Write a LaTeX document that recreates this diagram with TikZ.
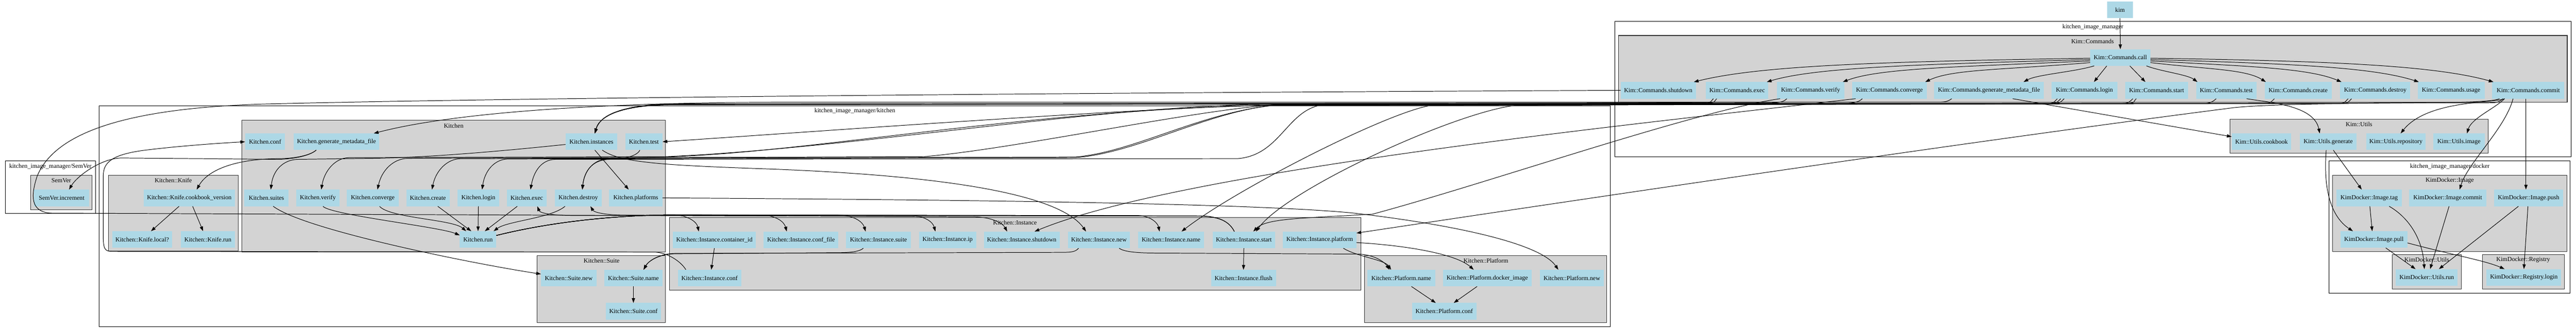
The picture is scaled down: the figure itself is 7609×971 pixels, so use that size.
\documentclass[tikz,border=0pt]{standalone}
\usepackage{fontspec}
\setmainfont{Liberation Serif}
\usetikzlibrary{arrows.meta,calc}
\definecolor{nodeblue}{HTML}{ADD8E6}
\definecolor{clgray}{HTML}{D3D3D3}
\newcommand{\nf}{\fontsize{18.3pt}{22pt}\selectfont}
\tikzset{
  nd/.style={rectangle, fill=nodeblue, draw=none, minimum height=49pt, inner sep=0pt, font=\nf},
  lbl/.style={inner sep=0pt, font=\nf},
  clw/.style={draw=black, line width=1.4pt, fill=white},
  clg/.style={draw=black!80, line width=1.6pt, fill=clgray},
  ed/.style={draw=black, line width=1.5pt, -{Triangle[length=14pt,width=9.5pt]}},
}
\begin{document}
\begin{tikzpicture}[x=1pt,y=-1pt]
\useasboundingbox (0,0) rectangle (7609,971);
\fill[white] (0,0) rectangle (7609,971);

% ---------- clusters ----------
\draw[clw] (4770,63) rectangle (7594,463);
\node[lbl] (Lkim) at (6182,80) {kitchen\_image\_manager};
\draw[clg] (4780,105) rectangle (7583,302);
\node[lbl] (LKC) at (6181,122) {Kim::Commands};
\draw[clg] (6587,353) rectangle (7349,453);
\node[lbl] (LKU) at (6968,368) {Kim::Utils};

\draw[clw] (6879,476) rectangle (7592,866);
\node[lbl] (Ldock) at (7236,492) {kitchen\_image\_manager/docker};
\draw[clg] (6890,518) rectangle (7582,743);
\node[lbl] (LKDI) at (7236,533) {KimDocker::Image};
\draw[clg] (7066,753) rectangle (7270,855);
\node[lbl] (LKDU) at (7168,768) {KimDocker::Utils};
\draw[clg] (7332,753) rectangle (7574,855);
\node[lbl] (LKDR) at (7453,768) {KimDocker::Registry};

\draw[clw] (16,476) rectangle (282,631);
\node[lbl] (Lsem) at (149,492) {kitchen\_image\_manager/SemVer};
\draw[clg] (91,518) rectangle (272,620);
\node[lbl] (LSV) at (181,533) {SemVer};

\draw[clw] (293,313) rectangle (4757,965);
\node[lbl] (Lkit) at (2525,328) {kitchen\_image\_manager/kitchen};
\draw[clg] (320,518) rectangle (704,742);
\node[lbl] (LKK) at (512,533) {Kitchen::Knife};
\draw[clg] (715,355) rectangle (1966,745);
\node[lbl] (LK) at (1340,372) {Kitchen};
\draw[clg] (1977,643) rectangle (4020,857);
\node[lbl] (LKI) at (2998,658) {Kitchen::Instance};
\draw[clg] (1587,755) rectangle (1966,954);
\node[lbl] (LKS) at (1777,770) {Kitchen::Suite};
\draw[clg] (4031,755) rectangle (4746,954);
\node[lbl] (LKP) at (4389,770) {Kitchen::Platform};

% ---------- nodes ----------
\node[nd, minimum width=75pt] (kim) at (6262,29) {kim};
\node[nd, minimum width=178pt] (KCcall) at (6263,170) {Kim::Commands.call};
\node[nd, minimum width=222pt] (KCshutdown) at (4898,267) {Kim::Commands.shutdown};
\node[nd, minimum width=185pt] (KCexec) at (5131,267) {Kim::Commands.exec};
\node[nd, minimum width=200pt] (KCverify) at (5348,267) {Kim::Commands.verify};
\node[nd, minimum width=221pt] (KCconverge) at (5581,267) {Kim::Commands.converge};
\node[nd, minimum width=324pt] (KCgen) at (5875,267) {Kim::Commands.generate\_metadata\_file};
\node[nd, minimum width=195pt] (KClogin) at (6157,267) {Kim::Commands.login};
\node[nd, minimum width=185pt] (KCstart) at (6370,267) {Kim::Commands.start};
\node[nd, minimum width=178pt] (KCtest) at (6576,267) {Kim::Commands.test};
\node[nd, minimum width=198pt] (KCcreate) at (6788,267) {Kim::Commands.create};
\node[nd, minimum width=207pt] (KCdestroy) at (7016,267) {Kim::Commands.destroy};
\node[nd, minimum width=198pt] (KCusage) at (7240,267) {Kim::Commands.usage};
\node[nd, minimum width=213pt] (KCcommit) at (7468,267) {Kim::Commands.commit};

\node[nd, minimum width=176pt] (KUcookbook) at (6680,419) {Kim::Utils.cookbook};
\node[nd, minimum width=168pt] (KUgen) at (6877,419) {Kim::Utils.generate};
\node[nd, minimum width=176pt] (KUrepo) at (7077,419) {Kim::Utils.repository};
\node[nd, minimum width=152pt] (KUimage) at (7263,419) {Kim::Utils.image};

\node[nd, minimum width=192pt] (KDItag) at (6998,585) {KimDocker::Image.tag};
\node[nd, minimum width=228pt] (KDIcommit) at (7230,585) {KimDocker::Image.commit};
\node[nd, minimum width=204pt] (KDIpush) at (7469,585) {KimDocker::Image.push};
\node[nd, minimum width=198pt] (KDIpull) at (7012,708) {KimDocker::Image.pull};
\node[nd, minimum width=183pt] (KDUrun) at (7168,820) {KimDocker::Utils.run};
\node[nd, minimum width=221pt] (KDRlogin) at (7455,820) {KimDocker::Registry.login};

\node[nd, minimum width=162pt] (SVinc) at (182,585) {SemVer.increment};
\node[nd, minimum width=270pt] (KKcv) at (559,585) {Kitchen::Knife.cookbook\_version};
\node[nd, minimum width=178pt] (KKlocal) at (420,708) {Kitchen::Knife.local?};
\node[nd, minimum width=160pt] (KKrun) at (614,708) {Kitchen::Knife.run};

\node[nd, minimum width=118pt] (Kconf) at (783,419) {Kitchen.conf};
\node[nd, minimum width=253pt] (Kgen) at (994,419) {Kitchen.generate\_metadata\_file};
\node[nd, minimum width=153pt] (Kinstances) at (1747,419) {Kitchen.instances};
\node[nd, minimum width=110pt] (Ktest) at (1902,419) {Kitchen.test};
\node[nd, minimum width=130pt] (Ksuites) at (787,585) {Kitchen.suites};
\node[nd, minimum width=127pt] (Kverify) at (939,585) {Kitchen.verify};
\node[nd, minimum width=154pt] (Kconverge) at (1101,585) {Kitchen.converge};
\node[nd, minimum width=128pt] (Kcreate) at (1264,585) {Kitchen.create};
\node[nd, minimum width=123pt] (Klogin) at (1413,585) {Kitchen.login};
\node[nd, minimum width=118pt] (Kexec) at (1556,585) {Kitchen.exec};
\node[nd, minimum width=138pt] (Kdestroy) at (1708,585) {Kitchen.destroy};
\node[nd, minimum width=157pt] (Kplatforms) at (1878,585) {Kitchen.platforms};
\node[nd, minimum width=108pt] (Krun) at (1412,708) {Kitchen.run};

\node[nd, minimum width=245pt] (KIcid) at (2110,709) {Kitchen::Instance.container\_id};
\node[nd, minimum width=220pt] (KIcf) at (2366,709) {Kitchen::Instance.conf\_file};
\node[nd, minimum width=192pt] (KIsuite) at (2595,709) {Kitchen::Instance.suite};
\node[nd, minimum width=169pt] (KIip) at (2799,709) {Kitchen::Instance.ip};
\node[nd, minimum width=224pt] (KIshutdown) at (3018,709) {Kitchen::Instance.shutdown};
\node[nd, minimum width=184pt] (KInew) at (3246,709) {Kitchen::Instance.new};
\node[nd, minimum width=196pt] (KIname) at (3459,709) {Kitchen::Instance.name};
\node[nd, minimum width=184pt] (KIstart) at (3674,709) {Kitchen::Instance.start};
\node[nd, minimum width=217pt] (KIplatform) at (3898,709) {Kitchen::Instance.platform};
\node[nd, minimum width=187pt] (KIconf) at (2096,822) {Kitchen::Instance.conf};
\node[nd, minimum width=192pt] (KIflush) at (3673,822) {Kitchen::Instance.flush};

\node[nd, minimum width=164pt] (KSnew) at (1680,822) {Kitchen::Suite.new};
\node[nd, minimum width=172pt] (KSname) at (1871,822) {Kitchen::Suite.name};
\node[nd, minimum width=162pt] (KSconf) at (1871,920) {Kitchen::Suite.conf};

\node[nd, minimum width=200pt] (KPname) at (4139,822) {Kitchen::Platform.name};
\node[nd, minimum width=262pt] (KPdocker) at (4393,822) {Kitchen::Platform.docker\_image};
\node[nd, minimum width=189pt] (KPnew) at (4643,822) {Kitchen::Platform.new};
\node[nd, minimum width=191pt] (KPconf) at (4266,920) {Kitchen::Platform.conf};

% ---------- edges: kim / call ----------
\draw[ed] (kim.south) -- (KCcall.north);
\draw[ed] ($(KCcall.west)+(0,2)$) .. controls +(-600,10) and +(200,-50) .. ($(KCshutdown.north east)+(-6,0)$);
\draw[ed] ($(KCcall.west)+(0,6)$) .. controls +(-480,14) and +(150,-45) .. ($(KCexec.north east)+(-5,0)$);
\draw[ed] ($(KCcall.west)+(0,10)$) .. controls +(-380,18) and +(110,-42) .. ($(KCverify.north east)+(-5,0)$);
\draw[ed] ($(KCcall.west)+(0,15)$) .. controls +(-260,22) and +(80,-38) .. ($(KCconverge.north east)+(-5,0)$);
\draw[ed] ($(KCcall.south west)+(12,0)$) .. controls +(-60,18) and +(40,-22) .. ($(KCgen.north east)+(-60,0)$);
\draw[ed] ($(KCcall.south)+(-40,0)$) -- ($(KClogin.north)+(28,0)$);
\draw[ed] ($(KCcall.south)+(28,0)$) -- ($(KCstart.north)+(-33,0)$);
\draw[ed] ($(KCcall.south east)+(-12,0)$) .. controls +(40,16) and +(-30,-22) .. ($(KCtest.north west)+(4,0)$);
\draw[ed] ($(KCcall.east)+(0,15)$) .. controls +(170,20) and +(-60,-38) .. ($(KCcreate.north west)+(4,0)$);
\draw[ed] ($(KCcall.east)+(0,10)$) .. controls +(280,16) and +(-100,-42) .. ($(KCdestroy.north west)+(4,0)$);
\draw[ed] ($(KCcall.east)+(0,6)$) .. controls +(400,12) and +(-140,-45) .. ($(KCusage.north west)+(4,0)$);
\draw[ed] ($(KCcall.east)+(0,2)$) .. controls +(520,8) and +(-180,-50) .. ($(KCcommit.north west)+(4,0)$);

% ---------- commands -> utils / docker ----------
\draw[ed] ($(KCgen.south)+(70,0)$) -- ($(KUcookbook.west)+(0,-15)$);
\draw[ed] ($(KCtest.south)+(60,0)$) .. controls (6700,303) and (6835,310) .. ($(KUgen.north)+(-25,0)$);
\draw[ed] ($(KCcommit.south)+(-70,0)$) .. controls (7370,305) and (7170,295) .. ($(KUrepo.north)+(14,0)$);
\draw[ed] ($(KCcommit.south)+(-70,0)$) .. controls (7370,320) and (7300,350) .. ($(KUimage.north)+(24,0)$);
\draw[ed] ($(KCcommit.south)+(-45,0)$) .. controls (7400,380) and (7290,480) .. ($(KDIcommit.north)+(35,0)$);
\draw[ed] ($(KCcommit.south)+(-7,0)$) -- ($(KDIpush.north)+(-8,0)$);

\draw[ed] ($(KUgen.south)+(15,0)$) -- ($(KDItag.north)+(-22,0)$);
\draw[ed] ($(KUgen.south)+(-6,0)$) .. controls (6862,560) and (6885,640) .. ($(KDIpull.north)+(-62,0)$);
\draw[ed] ($(KDItag.south)+(2,0)$) -- ($(KDIpull.north)+(-5,0)$);
\draw[ed] ($(KDItag.south)+(59,0)$) .. controls (7110,640) and (7155,700) .. ($(KDUrun.north)+(-7,0)$);
\draw[ed] ($(KDIcommit.south)+(4,0)$) -- ($(KDUrun.north)+(10,0)$);
\draw[ed] ($(KDIpush.south)+(-30,0)$) -- ($(KDUrun.north)+(36,0)$);
\draw[ed] ($(KDIpush.south)+(-2,0)$) -- (KDRlogin.north);
\draw[ed] ($(KDIpull.south)+(35,0)$) -- ($(KDUrun.north)+(-33,0)$);
\draw[ed] ($(KDIpull.east)+(0,10)$) .. controls (7250,755) and (7340,770) .. ($(KDRlogin.north)+(-57,0)$);

% ---------- upper bundle: commands -> kitchen ----------
\draw[ed] ($(KCgen.south)+(-110,0)$) .. controls +(-12,8) and +(30,0) .. (5720,302) -- (2300,302) .. controls (1800,303) and (1350,330) .. ($(Kgen.north)+(110,0)$);
\draw[ed] ($(KCtest.south)+(-30,0)$) .. controls +(-10,9) and +(30,0) .. (6500,306) -- (3800,310) .. controls (3400,315) and (2400,390) .. (Ktest.east);
\draw[ed] ($(KCverify.south)+(-70,0)$) .. controls +(-10,9) and +(30,0) .. (5230,304) -- (3700,309) .. controls (3200,320) and (2500,440) .. (1966,463) -- (1030,466) .. controls (990,467) and (958,505) .. ($(Kverify.north)+(10,0)$);
\draw[ed] ($(KCconverge.south)+(-80,0)$) .. controls +(-10,9) and +(30,0) .. (5450,305) -- (3760,310) .. controls (3500,330) and (3000,440) .. (2729,463) -- (1205,468) .. controls (1160,469) and (1127,505) .. ($(Kconverge.north)+(14,0)$);
\draw[ed] ($(KCcreate.south)+(-70,0)$) .. controls +(-10,9) and +(30,0) .. (6680,306) -- (3770,311) .. controls (3550,330) and (3350,450) .. (3176,464) -- (1360,469) .. controls (1320,470) and (1287,505) .. ($(Kcreate.north)+(12,0)$);
\draw[ed] ($(KClogin.south)+(-70,0)$) .. controls +(-10,9) and +(30,0) .. (6050,305) -- (3765,310.5) .. controls (3560,332) and (3360,452) .. (3176,466) -- (1500,470) .. controls (1460,471) and (1432,505) .. ($(Klogin.north)+(11,0)$);
\draw[ed] ($(KCexec.south)+(-70,0)$) .. controls +(-10,9) and +(30,0) .. (5030,303) -- (3900,311) .. controls (3800,330) and (3780,460) .. (3654,469) -- (1640,471) .. controls (1600,472) and (1577,505) .. ($(Kexec.north)+(11,0)$);
\draw[ed] ($(KCdestroy.south)+(-80,0)$) .. controls +(-10,9) and +(30,0) .. (6900,306) -- (3720,311.5) .. controls (3000,330) and (2400,450) .. (1966,464) -- (1800,469) .. controls (1752,470) and (1726,505) .. ($(Kdestroy.north)+(12,0)$);

\draw[ed] ($(KCexec.south)+(-60,0)$) .. controls +(-10,9) and +(30,0) .. (5040,304) -- (1990,307) .. controls (1870,308) and (1775,330) .. ($(Kinstances.north)+(10,0)$);
\draw[ed] ($(KClogin.south)+(-60,0)$) .. controls +(-10,9) and +(30,0) .. (6060,305) -- (1990,308) .. controls (1870,309) and (1775,330) .. ($(Kinstances.north)+(10,0)$);
\draw[ed] ($(KCstart.south)+(-60,0)$) .. controls +(-10,9) and +(30,0) .. (6280,305) -- (1990,308.5) .. controls (1870,309) and (1775,330) .. ($(Kinstances.north)+(10,0)$);
\draw[ed] ($(KCdestroy.south)+(-70,0)$) .. controls +(-10,9) and +(30,0) .. (6910,306) -- (1990,309) .. controls (1870,310) and (1775,330) .. ($(Kinstances.north)+(10,0)$);
\draw[ed] ($(KCcommit.south)+(-75,0)$) .. controls +(-10,9) and +(30,0) .. (7350,304) -- (1990,309.5) .. controls (1870,310) and (1775,330) .. ($(Kinstances.north)+(10,0)$);

% ---------- commands -> Kitchen::Instance ----------
\draw[ed] ($(KClogin.south)+(-80,0)$) .. controls +(-10,9) and +(30,0) .. (6040,306) -- (4230,311) .. controls (4100,330) and (3650,560) .. ($(KIname.north)+(31,0)$);
\draw[ed] ($(KCstart.south)+(-70,0)$) .. controls +(-10,9) and +(30,0) .. (6260,306) -- (4480,311) .. controls (4300,330) and (3800,560) .. ($(KIstart.north)+(36,0)$);
\draw[ed] ($(KCverify.south)+(-90,0)$) .. controls (5000,330) and (4400,540) .. (4054,633) .. controls (3850,645) and (3740,645) .. ($(KIstart.north)+(28,0)$);
\draw[ed] ($(KCconverge.south)+(-100,0)$) .. controls (4900,360) and (3500,500) .. ($(KIshutdown.north)+(38,0)$);
\draw[ed] ($(KCcommit.south)+(-85,0)$) .. controls +(-20,10) and +(60,0) .. (7189,303) .. controls (6900,306) and (6700,308) .. (6600,318) .. controls (5800,420) and (4600,600) .. ($(KIplatform.east)+(0,-20)$);
\draw[ed] (KCshutdown.west) .. controls (3000,275) and (1500,290) .. (800,307) .. controls (350,318) and (160,400) .. (110,520) .. controls (90,580) and (90,626) .. (150,630) -- (2880,641) .. controls (2930,642) and (2962,660) .. ($(KIshutdown.north)+(-43,0)$);

% ---------- inside kitchen ----------
\draw[ed] ($(Kgen.south)+(-60,0)$) .. controls +(-20,18) and +(40,0) .. (820,469) .. controls (700,470) and (615,500) .. ($(KKcv.north)+(22,0)$);
\draw[ed] ($(Kgen.south)+(-60,0)$) .. controls +(-20,18) and +(40,0) .. (820,471) -- (360,467) .. controls (300,467) and (228,520) .. ($(SVinc.north)+(22,0)$);
\draw[ed] ($(KIconf.north)+(-70,0)$) .. controls +(-15,-25) and +(40,0) .. (1930,745) -- (330,743) .. controls (310,743) and (305,735) .. (305,700) -- (305,520) .. controls (305,480) and (330,458) .. (420,445) .. controls (520,432) and (650,423) .. (Kconf.west);
\draw[ed] ($(Kinstances.west)+(0,8)$) .. controls (1450,450) and (1250,466) .. (1100,468) -- (880,471) .. controls (835,472) and (806,505) .. ($(Ksuites.north)+(13,0)$);
\draw[ed] ($(Kinstances.south)+(10,0)$) -- ($(Kplatforms.north)+(-21,0)$);
\draw[ed] ($(Kinstances.south)+(32,0)$) .. controls (1830,480) and (1950,488) .. (2259,499) .. controls (2700,515) and (3120,560) .. ($(KInew.north)+(-38,0)$);
\draw[ed] ($(Ktest.south)+(-12,0)$) .. controls +(-8,18) and +(40,0) .. (1800,471) .. controls (1750,472) and (1726,505) .. ($(Kdestroy.north)+(12,0)$);

\draw[ed] ($(Kverify.south)+(15,0)$) .. controls +(20,25) and +(-60,-25) .. ($(Krun.north west)+(0,12)$);
\draw[ed] ($(Kconverge.south)+(20,0)$) .. controls +(30,35) and +(-40,-35) .. ($(Krun.north)+(-35,0)$);
\draw[ed] ($(Kcreate.south)+(29,0)$) -- ($(Krun.north)+(-20,0)$);
\draw[ed] (Klogin.south) -- (Krun.north);
\draw[ed] ($(Kexec.south)+(-28,0)$) -- ($(Krun.north)+(20,0)$);
\draw[ed] ($(Kdestroy.south)+(-39,0)$) .. controls +(-40,35) and +(40,-30) .. ($(Krun.north)+(46,0)$);
\draw[ed] ($(Ksuites.south)+(20,0)$) .. controls (900,680) and (1400,780) .. ($(KSnew.west)+(0,-12)$);

\draw[ed] ($(KKcv.south)+(-30,0)$) -- ($(KKlocal.north)+(26,0)$);
\draw[ed] ($(KKcv.south)+(10,0)$) -- ($(KKrun.north)+(-14,0)$);

% ---------- lower bundle: run -> instance ----------
\draw[ed] ($(Krun.east)+(0,-12)$) .. controls (1650,650) and (1850,636) .. (1985,635) .. controls (2030,635) and (2058,655) .. ($(KIcid.north)+(-46,0)$);
\draw[ed] ($(Krun.east)+(0,-12)$) .. controls (1650,650) and (1850,636) .. (1985,635) -- (2250,636) .. controls (2292,637) and (2316,655) .. ($(KIcf.north)+(-42,0)$);
\draw[ed] ($(Krun.east)+(0,-12)$) .. controls (1650,650) and (1850,636) .. (1985,635) -- (2480,636) .. controls (2522,637) and (2548,655) .. ($(KIsuite.north)+(-38,0)$);
\draw[ed] ($(Krun.east)+(0,-12)$) .. controls (1650,650) and (1850,636) .. (1985,635) -- (2690,637) .. controls (2730,638) and (2755,655) .. ($(KIip.north)+(-36,0)$);
\draw[ed] ($(Krun.east)+(0,-12)$) .. controls (1650,650) and (1850,636) .. (1985,635) -- (3360,637) .. controls (3400,638) and (3420,660) .. ($(KIname.north)+(-34,0)$);

\draw[ed] ($(KIstart.north)+(-28,0)$) .. controls +(-15,-30) and +(60,0) .. (3540,638) -- (1700,637) .. controls (1630,637) and (1595,630) .. ($(Kexec.south)+(31,0)$);
\draw[ed] ($(KIstart.north)+(-28,0)$) .. controls +(-15,-30) and +(60,0) .. (3540,639) -- (1850,636) .. controls (1790,636) and (1755,628) .. ($(Kdestroy.south)+(36,0)$);

% ---------- instance / suite / platform ----------
\draw[ed] (KIcid.south) -- ($(KIconf.north)+(5,0)$);
\draw[ed] (KIstart.south) -- (KIflush.north);
\draw[ed] (KSname.south) -- (KSconf.north);
\draw[ed] ($(KIsuite.south)+(-45,0)$) .. controls +(-10,10) and +(40,0) .. (2470,747) -- (1995,750) .. controls (1945,751) and (1915,772) .. ($(KSname.north)+(30,0)$);
\draw[ed] ($(KInew.south)+(-60,0)$) .. controls +(-10,10) and +(40,0) .. (3130,746) -- (1995,749) .. controls (1945,750) and (1915,772) .. ($(KSname.north)+(30,0)$);
\draw[ed] ($(KInew.south)+(60,0)$) .. controls +(15,12) and +(-50,0) .. (3420,748) -- (4010,751) .. controls (4060,752) and (4090,775) .. ($(KPname.north)+(-35,0)$);
\draw[ed] ($(KIplatform.south)+(70,0)$) .. controls +(40,25) and +(-20,-30) .. ($(KPname.north)+(-30,0)$);
\draw[ed] ($(KIplatform.east)+(0,8)$) .. controls (4150,725) and (4300,750) .. ($(KPdocker.north)+(-40,0)$);
\draw[ed] (Kplatforms.east) .. controls (2800,590) and (3700,600) .. (4000,630) .. controls (4300,665) and (4550,720) .. ($(KPnew.north)+(-40,0)$);
\draw[ed] ($(KPname.south)+(30,0)$) -- ($(KPconf.north)+(-25,0)$);
\draw[ed] ($(KPdocker.south)+(-30,0)$) -- ($(KPconf.north)+(28,0)$);
\end{tikzpicture}
\end{document}
